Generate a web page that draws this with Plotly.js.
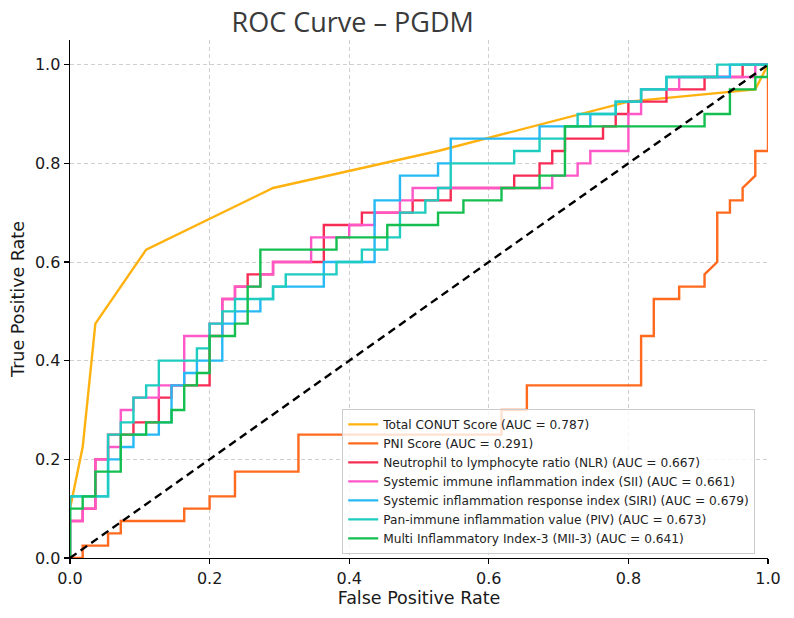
<!DOCTYPE html>
<html>
<head>
<meta charset="utf-8">
<script src="https://cdn.plot.ly/plotly-3.0.1.min.js"></script>
<style>html,body{margin:0;padding:0;background:#fff;}#chart{width:794px;height:618px;}</style>
</head>
<body>
<div id="chart"></div>
<script>
// ROC data: false positives (of 55 negatives), true positives (of 40 positives)
const N_NEG = 55;
const N_POS = 40;

const seriesNames = [
  "Total CONUT Score (AUC = 0.787)",
  "PNI Score (AUC = 0.291)",
  "Neutrophil to lymphocyte ratio (NLR) (AUC = 0.667)",
  "Systemic immune inflammation index (SII) (AUC = 0.661)",
  "Systemic inflammation response index (SIRI) (AUC = 0.679)",
  "Pan-immune inflammation value (PIV) (AUC = 0.673)",
  "Multi Inflammatory Index-3 (MII-3) (AUC = 0.641)"
];

const conutFP = [0, 0, 1, 2, 6, 16, 29, 44, 54, 55];
const conutTP = [0, 4, 9, 19, 25, 30, 33, 37, 38, 40];

const pniFP = [0, 1, 1, 3, 3, 4, 4, 9, 9, 11, 11, 13, 13, 18, 18, 34, 34, 36, 36, 45, 45, 46, 46, 48, 48, 50, 50, 51, 51, 52, 52, 53, 53, 54, 54, 55, 55];
const pniTP = [0, 0, 1, 1, 2, 2, 3, 3, 4, 4, 5, 5, 7, 7, 10, 10, 12, 12, 14, 14, 18, 18, 21, 21, 22, 22, 23, 24, 28, 28, 29, 29, 30, 31, 33, 33, 40];

const nlrFP = [0, 0, 1, 1, 2, 2, 3, 3, 5, 5, 7, 7, 8, 8, 11, 11, 12, 12, 13, 13, 14, 14, 16, 16, 20, 20, 23, 23, 27, 27, 30, 30, 35, 35, 37, 37, 38, 38, 39, 39, 42, 42, 43, 43, 44, 44, 47, 47, 50, 50, 53, 53, 55];
const nlrTP = [0, 3, 3, 4, 4, 8, 8, 10, 10, 11, 11, 13, 13, 14, 14, 18, 18, 21, 21, 22, 22, 23, 23, 24, 24, 27, 27, 28, 28, 29, 29, 30, 30, 31, 31, 32, 32, 33, 33, 34, 34, 35, 35, 36, 36, 37, 37, 38, 38, 39, 39, 40, 40];

const siiFP = [0, 0, 1, 1, 2, 2, 3, 3, 4, 4, 5, 5, 7, 7, 9, 9, 11, 11, 12, 12, 13, 13, 15, 15, 16, 16, 19, 19, 22, 22, 24, 24, 26, 26, 27, 27, 38, 38, 40, 40, 41, 41, 44, 44, 45, 45, 48, 48, 54, 54, 55];
const siiTP = [0, 3, 3, 4, 4, 8, 8, 9, 9, 12, 12, 13, 13, 14, 14, 18, 18, 19, 19, 21, 21, 22, 22, 23, 23, 24, 24, 26, 26, 27, 27, 28, 28, 29, 29, 30, 30, 31, 31, 32, 32, 33, 33, 36, 36, 38, 38, 39, 39, 40, 40];

const siriFP = [0, 0, 3, 3, 4, 4, 5, 5, 7, 7, 8, 8, 9, 9, 10, 10, 12, 12, 13, 13, 15, 15, 16, 16, 20, 20, 24, 24, 26, 26, 29, 29, 30, 30, 37, 37, 41, 41, 43, 43, 45, 45, 47, 47, 52, 52, 55];
const siriTP = [0, 5, 5, 8, 8, 9, 9, 10, 10, 11, 11, 14, 14, 15, 15, 16, 16, 19, 19, 20, 20, 21, 21, 22, 22, 24, 24, 29, 29, 31, 31, 32, 32, 34, 34, 35, 35, 36, 36, 37, 37, 38, 38, 39, 39, 40, 40];

const pivFP = [0, 0, 3, 3, 4, 4, 5, 5, 6, 6, 7, 7, 10, 10, 11, 11, 12, 12, 13, 13, 16, 16, 17, 17, 21, 21, 23, 23, 25, 25, 26, 26, 28, 28, 29, 29, 30, 30, 35, 35, 37, 37, 39, 39, 40, 40, 43, 43, 45, 45, 47, 47, 51, 51, 55];
const pivTP = [0, 5, 5, 10, 10, 11, 11, 13, 13, 14, 14, 16, 16, 17, 17, 19, 19, 20, 20, 21, 21, 22, 22, 23, 23, 24, 24, 25, 25, 26, 26, 28, 28, 29, 29, 30, 30, 32, 32, 33, 33, 34, 34, 35, 35, 36, 36, 37, 37, 38, 38, 39, 39, 40, 40];

const miiFP = [0, 0, 1, 1, 2, 2, 4, 4, 6, 6, 8, 8, 9, 9, 10, 10, 11, 11, 13, 13, 14, 14, 15, 15, 21, 21, 25, 25, 29, 29, 31, 31, 34, 34, 37, 37, 39, 39, 50, 50, 52, 52, 54, 54, 55, 55];
const miiTP = [0, 4, 4, 5, 5, 7, 7, 10, 10, 11, 11, 12, 12, 14, 14, 15, 15, 18, 18, 19, 19, 22, 22, 25, 25, 26, 26, 27, 27, 28, 28, 29, 29, 30, 30, 31, 31, 35, 35, 36, 36, 38, 38, 39, 39, 40];

const chanceX = [0, 1];
const chanceY = [0, 1];

const axisTicks = [0, 0.2, 0.4, 0.6, 0.8, 1.0];
const axisTickText = ["0.0", "0.2", "0.4", "0.6", "0.8", "1.0"];

const colors = ["#FFB20F", "#FF6A1E", "#F72C55", "#FF57C8", "#27B9F4", "#1ECCC0", "#14BF50"];
const fpSets = [conutFP, pniFP, nlrFP, siiFP, siriFP, pivFP, miiFP];
const tpSets = [conutTP, pniTP, nlrTP, siiTP, siriTP, pivTP, miiTP];

const traces = seriesNames.map((name, k) => ({
  type: "scatter",
  mode: "lines",
  name: name,
  x: fpSets[k].map(v => v / N_NEG),
  y: tpSets[k].map(v => v / N_POS),
  line: {color: colors[k], width: 2.4, shape: "linear"},
  hoverinfo: "skip"
}));

traces.push({
  type: "scatter",
  mode: "lines",
  x: chanceX,
  y: chanceY,
  showlegend: false,
  line: {color: "#000000", width: 2.4, dash: "8px,5px"},
  hoverinfo: "skip"
});

const tickFont = {family: "DejaVu Sans", size: 16, color: "#1a1a1a"};
const labelFont = {family: "DejaVu Sans", size: 17.5, color: "#1a1a1a"};

const layout = {
  width: 794,
  height: 618,
  autosize: false,
  paper_bgcolor: "#ffffff",
  plot_bgcolor: "#ffffff",
  margin: {l: 70, r: 26, t: 40, b: 60, pad: 0},
  title: {
    text: "ROC Curve – PGDM",
    font: {family: "Open Sans", size: 27, color: "#3a3a3a"},
    xref: "paper", x: 0.405, xanchor: "center",
    yref: "container", y: 0.964, yanchor: "middle"
  },
  xaxis: {
    range: [0, 1],
    tickvals: axisTicks,
    ticktext: axisTickText,
    ticks: "outside", ticklen: 5, tickwidth: 1.3, tickcolor: "#000",
    tickfont: tickFont,
    showline: true, linecolor: "#000", linewidth: 1.4,
    showgrid: true, gridcolor: "#cfcfcf", gridwidth: 1, griddash: "4px,3px",
    zeroline: false,
    title: {text: "False Positive Rate", font: labelFont, standoff: 5},
    automargin: false,
    fixedrange: true
  },
  yaxis: {
    range: [0, 1.05],
    tickvals: axisTicks,
    ticktext: axisTickText,
    ticks: "outside", ticklen: 5, tickwidth: 1.3, tickcolor: "#000",
    tickfont: tickFont,
    showline: true, linecolor: "#000", linewidth: 1.4,
    showgrid: true, gridcolor: "#cfcfcf", gridwidth: 1, griddash: "4px,3px",
    zeroline: false,
    title: {text: "True Positive Rate", font: labelFont, standoff: 6},
    automargin: false,
    fixedrange: true
  },
  legend: {
    x: 0.39, y: 0.008, xanchor: "left", yanchor: "bottom",
    xref: "paper", yref: "paper",
    bgcolor: "rgba(255,255,255,0.8)",
    bordercolor: "#cccccc", borderwidth: 1,
    font: {family: "DejaVu Sans", size: 12.2, color: "#222222"},
    itemwidth: 30,
    tracegroupgap: 0
  },
  showlegend: true
};

Plotly.newPlot("chart", traces, layout, {staticPlot: true, displayModeBar: false});
</script>
</body>
</html>
